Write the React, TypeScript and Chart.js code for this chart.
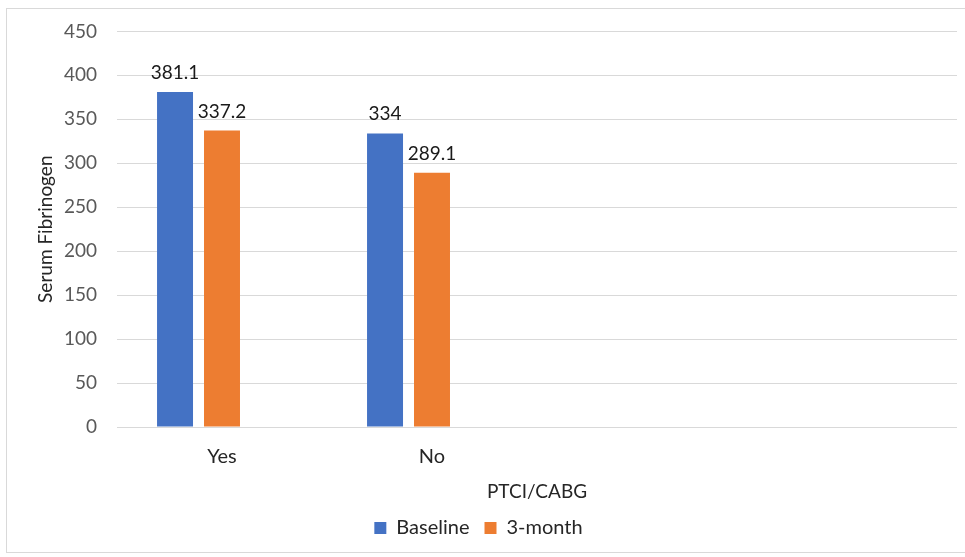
import React, { useEffect, useRef } from "react";
import { Chart, registerables } from "chart.js";

Chart.register(...registerables);

const categories = ["Yes", "No", "", ""];
const baselineValues = [381.1, 334, null, null];
const threeMonthValues = [337.2, 289.1, null, null];
const emptySeries = [null, null, null, null];
const seriesNames = ["Baseline", "3-month", ""];
const yTickMax = 450;
const yTickStep = 50;
const xTitle = "PTCI/CABG";
const yTitle = "Serum Fibrinogen";

const FONT = "Lato";

const borderPlugin = {
  id: "outerBorder",
  beforeDraw(chart: any) {
    const { ctx } = chart;
    ctx.save();
    ctx.fillStyle = "#ffffff";
    ctx.fillRect(0, 0, chart.width, chart.height);
    ctx.strokeStyle = "#d9d9d9";
    ctx.lineWidth = 1;
    ctx.strokeRect(6.5, 8.5, chart.width + 10, 544);
    ctx.restore();
  },
};

const valueLabelPlugin = {
  id: "valueLabels",
  afterDatasetsDraw(chart: any) {
    const { ctx } = chart;
    ctx.save();
    ctx.font = `19px ${FONT}`;
    ctx.fillStyle = "#1a1a1a";
    ctx.textAlign = "center";
    ctx.textBaseline = "alphabetic";
    chart.data.datasets.forEach((ds: any, di: number) => {
      const meta = chart.getDatasetMeta(di);
      meta.data.forEach((bar: any, i: number) => {
        const v = ds.data[i];
        if (v === null || v === undefined) return;
        ctx.fillText(String(v), bar.x, bar.y - 13);
      });
    });
    ctx.restore();
  },
};

export default function App() {
  const ref = useRef<HTMLCanvasElement | null>(null);
  useEffect(() => {
    document.body.style.margin = "0";
    if (!ref.current) return;
    const chart = new Chart(ref.current, {
      type: "bar",
      data: {
        labels: categories,
        datasets: [
          { label: seriesNames[0], data: baselineValues, backgroundColor: "#4472c4" },
          { label: seriesNames[1], data: threeMonthValues, backgroundColor: "#ed7d31" },
          { label: seriesNames[2], data: emptySeries, backgroundColor: "#a5a5a5" },
        ],
      },
      options: {
        responsive: false,
        animation: false,
        devicePixelRatio: 1,
        layout: { padding: { top: 31, left: 0, right: 8, bottom: 9 } },
        datasets: {
          bar: { categoryPercentage: 0.671, barPercentage: 0.766 },
        },
        plugins: {
          legend: {
            position: "bottom",
            labels: {
              filter: (item: any) => item.datasetIndex < 2,
              boxWidth: 12,
              boxHeight: 12,
              padding: 15,
              color: "#262626",
              font: { family: FONT, size: 20 },
            },
          },
          tooltip: { enabled: false },
        },
        scales: {
          x: {
            grid: { display: false, drawTicks: false },
            border: { display: false },
            ticks: { color: "#262626", font: { family: FONT, size: 20 }, padding: 18 },
            title: {
              display: true,
              text: xTitle,
              color: "#262626",
              font: { family: FONT, size: 19 },
              padding: { top: 0, bottom: 0 },
            },
            afterFit: (s: any) => {
              s.height = 76;
            },
          },
          y: {
            min: 0,
            max: yTickMax,
            grid: { color: "#d9d9d9", drawTicks: false, lineWidth: 1 },
            border: { display: false },
            ticks: {
              stepSize: yTickStep,
              color: "#595959",
              font: { family: FONT, size: 19 },
              padding: 20,
            },
            title: {
              display: true,
              text: yTitle,
              color: "#262626",
              font: { family: FONT, size: 19 },
              padding: { top: 34, bottom: 0 },
            },
            afterFit: (s: any) => {
              s.width = 117;
            },
          },
        },
      },
      plugins: [borderPlugin, valueLabelPlugin],
    });
    return () => chart.destroy();
  }, []);
  return (
    <div style={{ width: 965, height: 557, position: "relative" }}>
      <canvas ref={ref} width={965} height={557} style={{ display: "block" }} />
    </div>
  );
}
